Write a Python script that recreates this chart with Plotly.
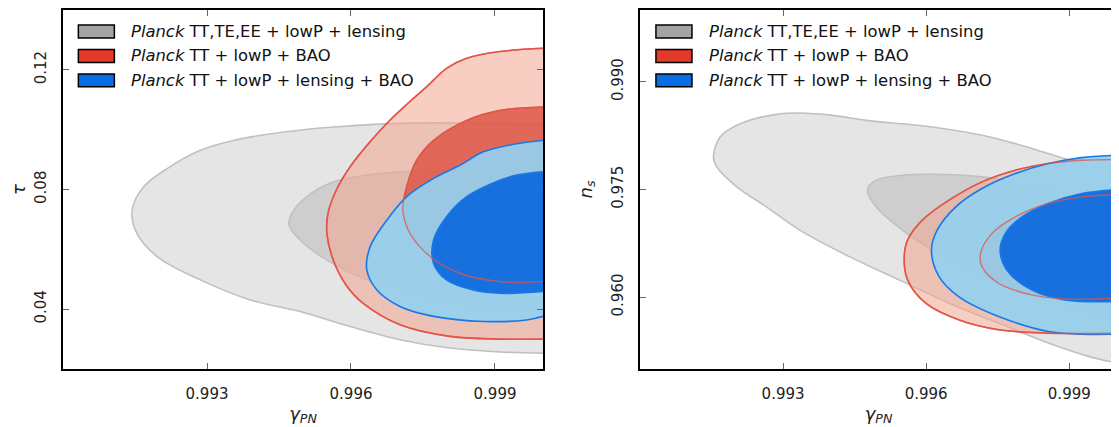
import plotly.graph_objects as go

# ---------------- data ----------------
# Left panel: gamma_PN vs tau
tau_gray_out_x = [1.0, 0.99723, 0.99564, 0.99460, 0.99355, 0.99286, 0.99217, 0.99168, 0.99144, 0.99154, 0.99196, 0.99286, 0.99390, 0.99494, 0.99598, 0.99702, 0.99806, 0.99910, 1.0]
tau_gray_out_y = [0.1018, 0.1022, 0.1009, 0.0992, 0.0964, 0.0931, 0.0870, 0.0809, 0.0731, 0.0653, 0.0576, 0.0498, 0.0431, 0.0392, 0.0342, 0.0298, 0.0270, 0.0257, 0.0253]
tau_gray_in_x = [1.0, 0.99772, 0.99702, 0.99633, 0.99564, 0.99508, 0.99477, 0.99471, 0.99494, 0.99550, 0.99633, 0.99737, 0.99841, 0.99945, 1.0]
tau_gray_in_y = [0.0861, 0.0862, 0.0859, 0.0848, 0.0826, 0.0776, 0.0720, 0.0681, 0.0631, 0.0564, 0.0498, 0.0442, 0.0409, 0.0396, 0.0392]
tau_red_out_x = [1.0, 0.99910, 0.99841, 0.99799, 0.99758, 0.99720, 0.99680, 0.99640, 0.99600, 0.99570, 0.99552, 0.99550, 0.99564, 0.99590, 0.99625, 0.99702, 0.99806, 0.99910, 1.0]
tau_red_out_y = [0.1272, 0.1261, 0.1239, 0.1205, 0.1144, 0.1090, 0.1030, 0.0960, 0.0880, 0.0800, 0.0720, 0.0650, 0.0560, 0.0480, 0.0420, 0.0348, 0.0309, 0.0300, 0.0300]
tau_red_in_x = [1.0, 0.99910, 0.99841, 0.99772, 0.99737, 0.99716, 0.99708, 0.99723, 0.99765, 0.99827, 0.99910, 1.0]
tau_red_in_y = [0.1076, 0.1064, 0.1031, 0.0964, 0.0898, 0.0809, 0.0731, 0.0653, 0.0576, 0.0520, 0.0492, 0.0492]
tau_blue_out_x = [1.0, 0.99945, 0.99876, 0.99827, 0.99772, 0.99716, 0.99675, 0.99640, 0.99633, 0.99654, 0.99702, 0.99772, 0.99876, 0.99966, 1.0]
tau_blue_out_y = [0.0964, 0.0953, 0.0926, 0.0881, 0.0837, 0.0776, 0.0698, 0.0609, 0.0531, 0.0464, 0.0409, 0.0376, 0.0359, 0.0364, 0.0376]
tau_blue_in_x = [1.0, 0.99945, 0.99910, 0.99841, 0.99799, 0.99772, 0.99772, 0.99799, 0.99855, 0.99910, 1.0]
tau_blue_in_y = [0.0859, 0.0848, 0.0831, 0.0776, 0.0709, 0.0631, 0.0553, 0.0498, 0.0464, 0.0453, 0.0459]

# Right panel: gamma_PN vs n_s
ns_gray_out_x = [1.0, 0.99926, 0.99856, 0.99787, 0.99717, 0.99613, 0.99474, 0.99404, 0.99335, 0.99286, 0.99210, 0.99168, 0.99154, 0.99161, 0.99203, 0.99265, 0.99335, 0.99439, 0.99543, 0.99648, 0.99752, 0.99856, 0.99940, 1.0]
ns_gray_out_y = [0.97745, 0.97861, 0.98000, 0.98139, 0.98255, 0.98370, 0.98463, 0.98532, 0.98565, 0.98546, 0.98417, 0.98232, 0.97954, 0.97815, 0.97537, 0.97259, 0.96935, 0.96565, 0.96241, 0.95917, 0.95639, 0.95361, 0.95176, 0.95083]
ns_gray_in_x = [1.0, 0.99926, 0.99856, 0.99787, 0.99717, 0.99613, 0.99550, 0.99495, 0.99477, 0.99495, 0.99550, 0.99613, 0.99717, 0.99821, 0.99926, 1.0]
ns_gray_in_y = [0.97259, 0.97398, 0.97514, 0.97606, 0.97676, 0.97713, 0.97699, 0.97630, 0.97491, 0.97259, 0.96935, 0.96657, 0.96287, 0.96009, 0.95778, 0.95616]
ns_red_out_x = [1.0, 0.99926, 0.99856, 0.99787, 0.99717, 0.99648, 0.99592, 0.99561, 0.99554, 0.99561, 0.99599, 0.99668, 0.99752, 0.99856, 1.0]
ns_red_out_y = [0.97917, 0.97907, 0.97861, 0.97769, 0.97606, 0.97352, 0.97074, 0.96796, 0.96565, 0.96241, 0.95917, 0.95685, 0.95546, 0.95500, 0.95500]
ns_red_in_x = [1.0, 0.99926, 0.99856, 0.99787, 0.99738, 0.99714, 0.99717, 0.99752, 0.99821, 0.99891, 1.0]
ns_red_in_y = [0.97431, 0.97398, 0.97306, 0.97120, 0.96889, 0.96611, 0.96426, 0.96194, 0.96032, 0.95977, 0.95986]
ns_blue_out_x = [1.0, 0.99926, 0.99856, 0.99787, 0.99717, 0.99662, 0.99623, 0.99611, 0.99627, 0.99668, 0.99752, 0.99856, 0.99926, 1.0]
ns_blue_out_y = [0.97977, 0.97944, 0.97861, 0.97722, 0.97514, 0.97259, 0.96935, 0.96657, 0.96287, 0.96009, 0.95731, 0.95523, 0.95486, 0.95486]
ns_blue_in_x = [1.0, 0.99926, 0.99856, 0.99801, 0.99766, 0.99755, 0.99769, 0.99821, 0.99891, 1.0]
ns_blue_in_y = [0.97500, 0.97444, 0.97306, 0.97120, 0.96889, 0.96657, 0.96380, 0.96102, 0.95963, 0.95940]

legend_labels = [
    "<i>Planck</i> TT,TE,EE + lowP + lensing",
    "<i>Planck</i> TT + lowP + BAO",
    "<i>Planck</i> TT + lowP + lensing + BAO",
]
x_ticks = [0.993, 0.996, 0.999]
tau_ticks = [0.04, 0.08, 0.12]
ns_ticks = [0.960, 0.975, 0.990]

# ---------------- styles ----------------
GRAY_OUT_FILL = "rgba(229,229,229,1)"
GRAY_IN_FILL = "rgba(206,206,206,1)"
GRAY_LINE = "rgb(192,192,192)"
RED_OUT_FILL = "rgba(242,165,146,0.55)"
RED_IN_FILL = "rgba(222,84,68,0.82)"
RED_LINE = "rgb(226,86,74)"
BLUE_OUT_FILL = "rgba(148,208,238,0.93)"
BLUE_IN_FILL = "rgba(19,108,222,0.97)"
BLUE_LINE = "rgb(24,120,232)"
PATCH_COLORS = ["#a4a4a4", "#e23a2a", "#0a6de6"]
FONT = "DejaVu Sans"

fig = go.Figure()


def add_region(x, y, fill, line, xa, ya, lw=1.6):
    fig.add_trace(go.Scatter(
        x=x, y=y, xaxis=xa, yaxis=ya, mode="lines", fill="toself",
        fillcolor=fill, line=dict(color=line, width=lw, shape="spline", smoothing=1.0),
        hoverinfo="skip", showlegend=False))


def add_line(x, y, color, xa, ya, lw=1.4, op=0.75):
    fig.add_trace(go.Scatter(
        x=x, y=y, xaxis=xa, yaxis=ya, mode="lines", opacity=op,
        line=dict(color=color, width=lw, shape="spline", smoothing=1.0),
        hoverinfo="skip", showlegend=False))


panels = [
    ("x", "y", [
        (tau_gray_out_x, tau_gray_out_y, GRAY_OUT_FILL, GRAY_LINE),
        (tau_gray_in_x, tau_gray_in_y, GRAY_IN_FILL, GRAY_LINE),
        (tau_red_out_x, tau_red_out_y, RED_OUT_FILL, RED_LINE),
        (tau_red_in_x, tau_red_in_y, RED_IN_FILL, RED_LINE),
        (tau_blue_out_x, tau_blue_out_y, BLUE_OUT_FILL, BLUE_LINE),
        (tau_blue_in_x, tau_blue_in_y, BLUE_IN_FILL, BLUE_LINE),
    ], [(tau_red_in_x, tau_red_in_y), (tau_red_out_x, tau_red_out_y)]),
    ("x2", "y2", [
        (ns_gray_out_x, ns_gray_out_y, GRAY_OUT_FILL, GRAY_LINE),
        (ns_gray_in_x, ns_gray_in_y, GRAY_IN_FILL, GRAY_LINE),
        (ns_red_out_x, ns_red_out_y, RED_OUT_FILL, RED_LINE),
        (ns_red_in_x, ns_red_in_y, RED_IN_FILL, RED_LINE),
        (ns_blue_out_x, ns_blue_out_y, BLUE_OUT_FILL, BLUE_LINE),
        (ns_blue_in_x, ns_blue_in_y, BLUE_IN_FILL, BLUE_LINE),
    ], [(ns_red_in_x, ns_red_in_y), (ns_red_out_x, ns_red_out_y)]),
]

for xa, ya, regions, red_lines in panels:
    for x, y, fc, lc in regions:
        add_region(x, y, fc, lc, xa, ya)
    for x, y in red_lines:
        add_line(x, y, RED_LINE, xa, ya)

# ---------------- axes ----------------
common_axis = dict(
    showgrid=False, zeroline=False, showline=True, linecolor="black", linewidth=2,
    mirror="ticks", ticks="inside", ticklen=6, tickwidth=1.2, tickcolor="#666666",
    tickfont=dict(family=FONT, size=15, color="#222222"), automargin=False,
)
title_font = dict(family=FONT, size=18, color="#222222")

# the page body adds an 8px offset, so the figure is sized to fit the window
fig.update_layout(
    width=1111, height=419,
    margin=dict(l=55, r=2, t=2, b=58),
    paper_bgcolor="white", plot_bgcolor="white",
    showlegend=False,
    xaxis=dict(domain=[0, 0.4554], range=[0.990, 1.000], tickvals=x_ticks,
               tickformat=".3f", ticklabelstandoff=10,
               title=dict(text="<i>γ</i><sub><i>PN</i></sub>", standoff=5, font=title_font),
               anchor="y", **common_axis),
    yaxis=dict(domain=[0, 1], range=[0.02, 0.14], tickvals=tau_ticks,
               tickformat=".2f", tickangle=-90, ticklabelstandoff=9,
               title=dict(text="<i>τ</i>", standoff=13, font=title_font),
               anchor="x", **common_axis),
    xaxis2=dict(domain=[0.5474, 1.0], range=[0.990, 1.000], tickvals=x_ticks,
                tickformat=".3f", ticklabelstandoff=10,
                title=dict(text="<i>γ</i><sub><i>PN</i></sub>", standoff=5, font=title_font),
                anchor="y2", **common_axis),
    yaxis2=dict(domain=[0, 1], range=[0.95, 1.00], tickvals=ns_ticks,
                tickformat=".3f", tickangle=-90, ticklabelstandoff=9,
                title=dict(text="<i>n<sub>s</sub></i>", standoff=12, font=title_font),
                anchor="x2", **common_axis),
)

# ---------------- legends (inside each panel, top-left) ----------------
row_top = [0.958, 0.890, 0.822]
row_h = 0.036
for xr, yr, px0, px1, tx in [("x domain", "y domain", 0.032, 0.107, 0.137),
                             ("x2 domain", "y2 domain", 0.0335, 0.109, 0.140)]:
    for i, lab in enumerate(legend_labels):
        fig.add_shape(type="rect", xref=xr, yref=yr,
                      x0=px0, x1=px1, y0=row_top[i] - row_h, y1=row_top[i],
                      fillcolor=PATCH_COLORS[i], line=dict(color="black", width=1.5))
        fig.add_annotation(xref=xr, yref=yr, x=tx, y=row_top[i] - row_h / 2,
                           text=lab, showarrow=False, xanchor="left", yanchor="middle",
                           font=dict(family=FONT, size=16.4, color="#111111"))

fig.write_html("out.html")
